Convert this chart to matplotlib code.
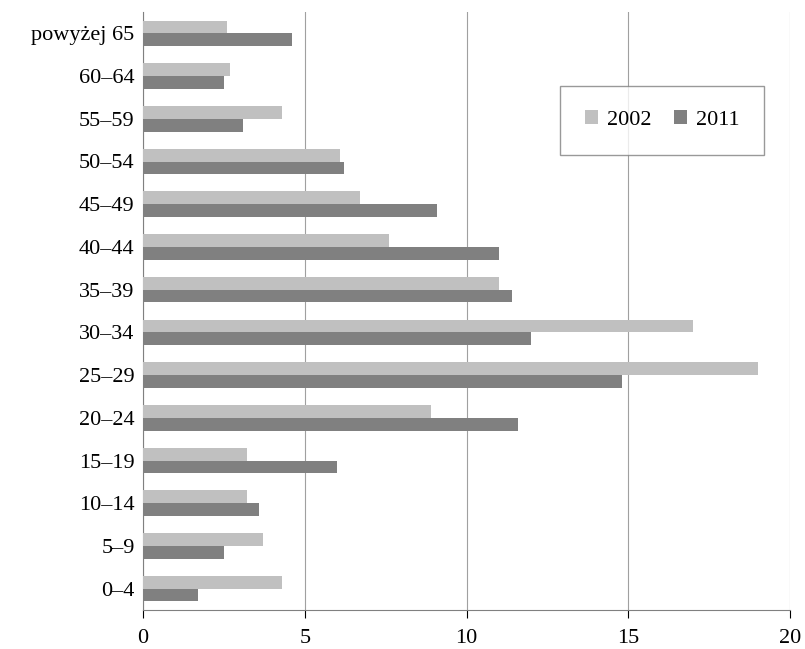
import matplotlib.pyplot as plt
import numpy as np

plt.rcParams['font.family'] = ['Liberation Serif', 'DejaVu Serif']

groups = ['0–4', '5–9', '10–14', '15–19', '20–24', '25–29', '30–34', '35–39',
          '40–44', '45–49', '50–54', '55–59', '60–64', 'powyżej 65']
v2002 = [4.3, 3.7, 3.2, 3.2, 8.9, 19.0, 17.0, 11.0, 7.6, 6.7, 6.1, 4.3, 2.7, 2.6]
v2011 = [1.7, 2.5, 3.6, 6.0, 11.6, 14.8, 12.0, 11.4, 11.0, 9.1, 6.2, 3.1, 2.5, 4.6]

fig = plt.figure(figsize=(8.05, 6.49), dpi=100)
ax = fig.add_axes([143/805, 1-610/649, (790-143)/805, (610-12)/649])
y = np.arange(len(groups))
h = 0.3
ax.barh(y + h/2, v2002, h, color='#c0c0c0', label='2002', zorder=3)
ax.barh(y - h/2, v2011, h, color='#808080', label='2011', zorder=3)
ax.set_yticks(y)
ax.set_yticklabels(groups, fontsize=16)
ax.set_ylim(-0.5, len(groups) - 0.5)
ax.set_xlim(0, 20)
ax.set_xticks([0, 5, 10, 15, 20])
ax.tick_params(axis='x', labelsize=16, length=6, direction='out', pad=8)
ax.tick_params(axis='y', length=0, pad=6)
ax.grid(axis='x', color='#a0a0a0', linewidth=0.8, zorder=0)
for s in ['top', 'right']:
    ax.spines[s].set_visible(False)
ax.spines['left'].set_color('#808080')
ax.spines['bottom'].set_color('#808080')
leg = ax.legend(loc='upper right', bbox_to_anchor=(0.977, 0.895), ncol=2, fontsize=16,
                frameon=True, fancybox=False, edgecolor='#808080',
                handlelength=0.6, handleheight=0.6, columnspacing=1.0,
                handletextpad=0.4, borderpad=1.1)
fig.savefig('out.png')
